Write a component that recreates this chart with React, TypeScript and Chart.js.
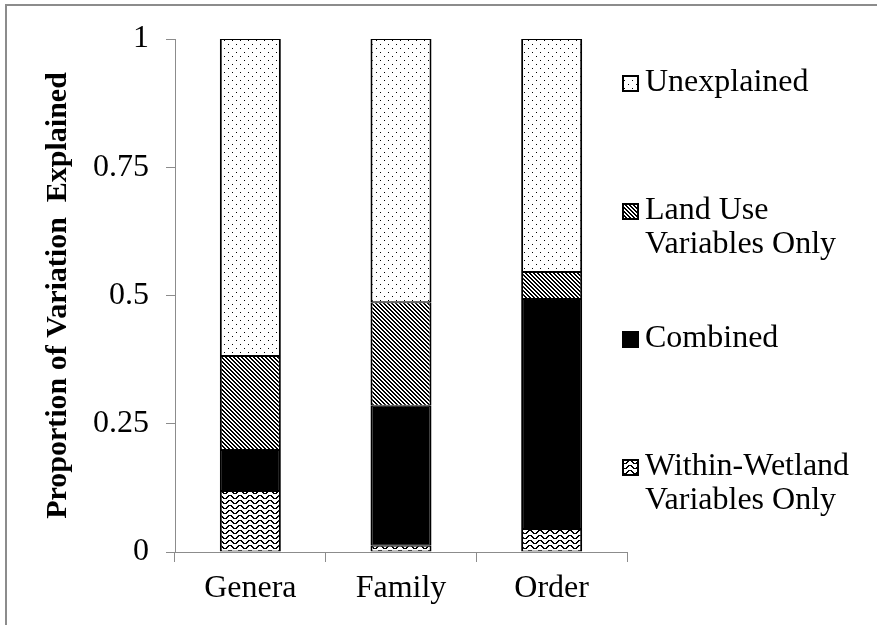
import React, { useEffect, useRef } from 'react';
import { Chart, registerables } from 'chart.js';

Chart.register(...registerables);

const categories = ['Genera', 'Family', 'Order'];
const withinWetland = [0.119, 0.012, 0.045];
const combined = [0.08, 0.273, 0.448];
const landUse = [0.183, 0.202, 0.053];
const unexplained = [0.618, 0.513, 0.454];
const yTicks = [0, 0.25, 0.5, 0.75, 1];
const yTitle = 'Proportion of Variation  Explained';
const legendLabels: string[][] = [
  ['Unexplained'],
  ['Land Use', 'Variables Only'],
  ['Combined'],
  ['Within-Wetland', 'Variables Only'],
];

const FONT = '"Liberation Serif", "Times New Roman", serif';
const GRAY = '#8c8c8c';

function makePattern(kind: string): CanvasPattern | string {
  const c = document.createElement('canvas');
  let w = 8;
  let h = 8;
  if (kind === 'diag') { w = 4; h = 4; }
  if (kind === 'wave') { w = 10; h = 5; }
  c.width = w;
  c.height = h;
  const ctx = c.getContext('2d')!;
  ctx.fillStyle = '#ffffff';
  ctx.fillRect(0, 0, w, h);
  ctx.fillStyle = '#000000';
  if (kind === 'dots') {
    ctx.fillRect(0, 0, 1, 1);
    ctx.fillRect(4, 4, 1, 1);
  } else if (kind === 'diag') {
    for (let i = 0; i < 4; i++) {
      ctx.fillRect(i, i, 1, 1);
      ctx.fillRect((i + 1) % 4, i, 1, 1);
    }
  } else if (kind === 'wave') {
    const ys = [0, 0, 1, 2, 3, 3, 3, 2, 1, 0];
    for (let x = 0; x < w; x++) {
      ctx.fillRect(x, ys[x], 1, 1);
      const nx = ys[(x + 1) % w];
      if (nx !== ys[x]) ctx.fillRect(x, nx, 1, 1);
    }
  }
  return ctx.createPattern(c, 'repeat') || '#000';
}

export default function App() {
  const ref = useRef<HTMLCanvasElement | null>(null);

  useEffect(() => {
    document.body.style.margin = '0';
    const canvas = ref.current!;
    const pDots = makePattern('dots');
    const pDiag = makePattern('diag');
    const pWave = makePattern('wave');
    const legendFills = [pDots, pDiag, '#000000', pWave];

    const framePlugin = {
      id: 'frame',
      beforeDraw(chart: any) {
        const ctx = chart.ctx;
        ctx.save();
        ctx.strokeStyle = GRAY;
        ctx.lineWidth = 2;
        ctx.beginPath();
        ctx.moveTo(6, 625);
        ctx.lineTo(6, 5);
        ctx.lineTo(877, 5);
        ctx.stroke();
        ctx.restore();
      },
    };

    const legendPlugin = {
      id: 'customLegend',
      afterDraw(chart: any) {
        const ctx = chart.ctx;
        ctx.save();
        legendLabels.forEach((lines, i) => {
          const cy = 83 + 128 * i;
          ctx.fillStyle = legendFills[i];
          ctx.fillRect(622, cy - 8, 17, 17);
          ctx.strokeStyle = '#000';
          ctx.lineWidth = 2;
          ctx.strokeRect(623, cy - 7, 15, 15);
          ctx.fillStyle = '#000';
          ctx.font = `32px ${FONT}`;
          ctx.textBaseline = 'middle';
          ctx.textAlign = 'left';
          lines.forEach((t, j) => ctx.fillText(t, 645, cy + 34 * j));
        });
        ctx.restore();
      },
    };

    const bw = { left: 2, right: 2, top: 1, bottom: 1 };

    const chart = new Chart(canvas, {
      type: 'bar',
      data: {
        labels: categories,
        datasets: [
          { label: 'Within-Wetland Variables Only', data: withinWetland, backgroundColor: pWave as any, borderColor: '#000', borderWidth: bw, borderSkipped: false },
          { label: 'Combined', data: combined, backgroundColor: '#000000', borderColor: '#000', borderWidth: bw, borderSkipped: false },
          { label: 'Land Use Variables Only', data: landUse, backgroundColor: pDiag as any, borderColor: '#000', borderWidth: bw, borderSkipped: false },
          { label: 'Unexplained', data: unexplained, backgroundColor: pDots as any, borderColor: '#000', borderWidth: bw, borderSkipped: false },
        ],
      },
      options: {
        responsive: false,
        animation: false,
        devicePixelRatio: 1,
        layout: { padding: { left: 40, top: 39, right: 250, bottom: 0 } },
        plugins: { legend: { display: false }, tooltip: { enabled: false } },
        datasets: { bar: { categoryPercentage: 1, barPercentage: 0.405 } },
        scales: {
          x: {
            stacked: true,
            grid: { display: true, drawOnChartArea: false, drawTicks: true, tickLength: 10, color: GRAY, offset: true },
            border: { display: true, color: GRAY, width: 1 },
            ticks: { color: '#000', font: { family: FONT, size: 32 }, padding: 7 },
            afterFit(s: any) { s.height = 73; },
          },
          y: {
            stacked: true,
            min: 0,
            max: 1,
            afterBuildTicks(s: any) { s.ticks = yTicks.map((v) => ({ value: v })); },
            grid: { display: true, drawOnChartArea: false, drawTicks: true, tickLength: 9, color: GRAY },
            border: { display: true, color: GRAY, width: 1 },
            ticks: { color: '#000', font: { family: FONT, size: 32 }, padding: 17, callback: (v: any) => String(v) },
            title: { display: true, text: yTitle, color: '#000', font: { family: FONT, size: 30, weight: 'bold' }, padding: 0 },
            afterFit(s: any) { s.width = 135; },
          },
        },
      },
      plugins: [framePlugin, legendPlugin],
    });
    return () => chart.destroy();
  }, []);

  return (
    <div style={{ width: 877, height: 625, background: '#fff' }}>
      <canvas ref={ref} width={877} height={625} style={{ display: 'block', width: 877, height: 625 }} />
    </div>
  );
}
